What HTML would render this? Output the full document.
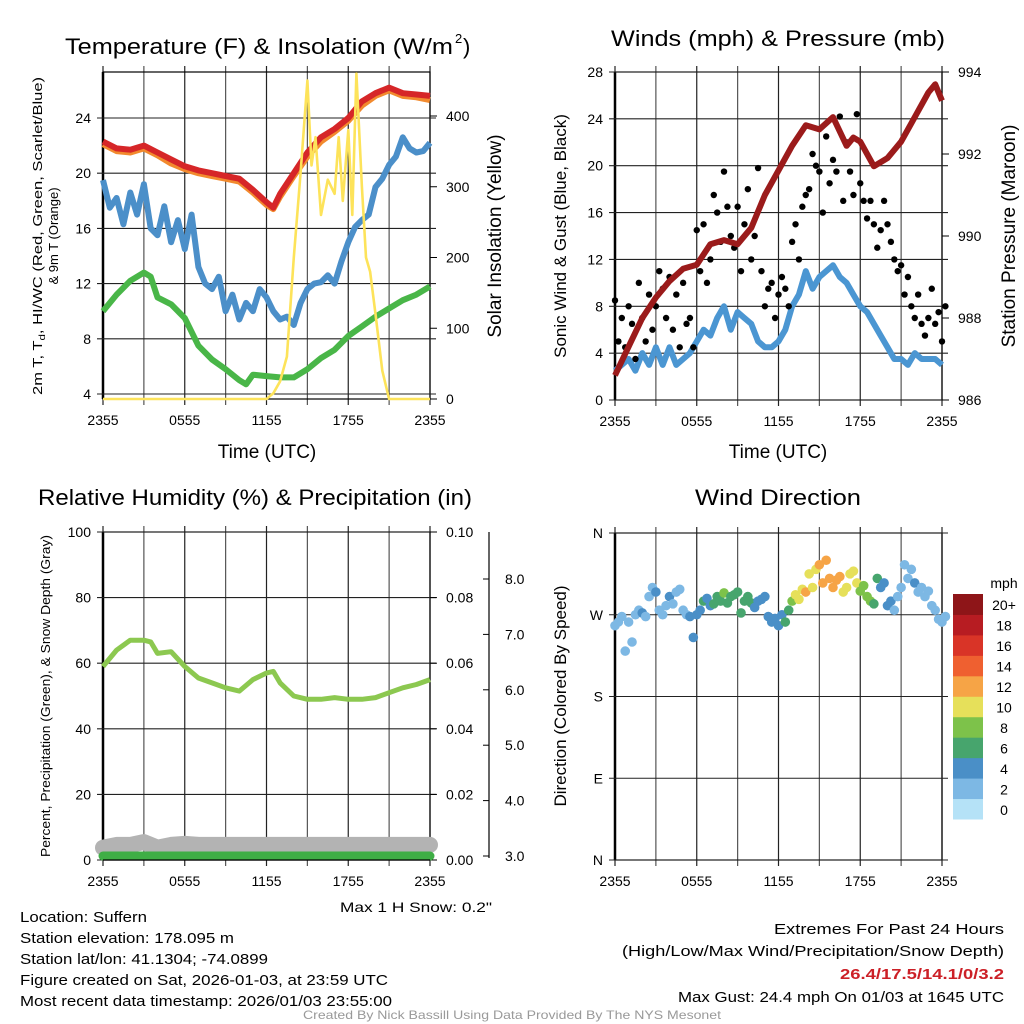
<!DOCTYPE html>
<html><head><meta charset="utf-8">
<style>
html,body{margin:0;padding:0;background:#fff;}
svg{display:block;font-family:"Liberation Sans",Arial,sans-serif;}
</style></head>
<body>
<svg id="c" width="1024" height="1024" viewBox="0 0 1024 1024" xmlns="http://www.w3.org/2000/svg"></svg>
<script>
// ---------- DATA ----------
const xTickLabels = ["2355","0555","1155","1755","2355"];
const tempHours = [0,1,2,3,4,5,6,7,8,9,10,11,12,12.5,13,14,15,16,17,18,19,20,21,22,23,24];
const tempRed   = [22.3,21.8,21.7,22.0,21.5,21.0,20.5,20.2,20.0,19.8,19.6,18.8,17.9,17.5,18.5,20.0,21.5,22.6,23.2,24.0,25.2,25.8,26.2,25.8,25.7,25.6];
const tempOrange= [22.1,21.6,21.5,21.8,21.3,20.7,20.3,20.0,19.8,19.6,19.4,18.6,17.7,17.4,18.3,19.8,21.2,22.3,23.0,23.8,24.9,25.6,26.0,25.6,25.5,25.3];
const dewHours  = [0,1,2,3,3.5,4,5,6,7,8,9,10,10.5,11,12,13,14,15,16,17,18,19,20,21,22,23,24];
const dewGreen  = [10.0,11.2,12.2,12.8,12.5,11.0,10.5,9.5,7.5,6.5,5.8,5.0,4.7,5.4,5.3,5.2,5.2,5.8,6.6,7.2,8.2,8.9,9.6,10.2,10.8,11.2,11.8];
const wcHours = [0,0.5,1,1.5,2,2.5,3,3.5,4,4.5,5,5.5,6,6.5,7,7.5,8,8.5,9,9.5,10,10.5,11,11.5,12,12.5,13,13.5,14,14.5,15,15.5,16,16.5,17,17.5,18,18.5,19,19.5,20,20.5,21,21.5,22,22.5,23,23.5,24];
const wcBlue  = [19.5,17.5,18.2,16.3,18.6,17.0,19.2,16.0,15.5,17.6,15.0,16.6,14.5,17.0,13.2,12.0,11.6,12.5,10.0,11.2,9.4,10.6,10.0,11.6,11.0,10.0,9.4,9.6,9.0,10.6,11.6,12.0,12.1,12.6,12.0,13.6,15.0,16.1,16.6,17.0,19.0,19.6,20.6,21.2,22.6,21.8,21.5,21.6,22.2];
const solarHours = [0,12,12.5,13,13.5,14,14.5,15,15.3,15.6,16,16.5,17,17.3,17.6,18,18.3,18.6,19,19.3,19.6,20,20.5,21,24];
const solarW     = [0,0,8,25,60,200,320,450,330,370,260,310,290,370,280,380,260,460,300,200,180,120,40,0,0];
const windHours = wcHours;
const windSpeed = [2.5,3.0,3.5,2.5,4.0,3.0,4.5,3.0,4.5,3.0,3.5,4.0,5.0,6.0,5.5,7.0,8.0,6.0,7.5,7.0,6.5,5.0,4.5,4.5,5.0,6.0,8.0,9.0,11.0,9.5,10.5,11.0,11.5,10.5,10.0,9.0,8.0,7.5,6.5,5.5,4.5,3.5,3.5,3.0,4.0,3.5,3.5,3.5,3.0];
const gustMph = [8.5,5,7,4.5,8,6.5,3.5,10,7,5,9,6,8,11,9.5,7,10.5,6,9,4.5,10,6.5,7,4.5,
  14.5,11,15,10,12,17.5,16,13.5,19.5,16.5,14,13,16.5,11,15,18,12,14,19.8,11,8,9.5,10,7,
  9,10.5,9.5,8,13.5,15,12,16.5,17.5,18,21,20,19.5,16,22.5,18.5,20.5,19.5,24.2,17,22,19.5,17.5,24.4,18.5,17,15.5,17,15,13,14.5,17,15,13.5,12,11,11.5,9,10.5,8,7,9,6.5,5.5,7,9.5,6.5,7.5,5,8];
const pressHours = [0,1,2,3,4,5,6,7,8,9,10,11,12,13,14,15,16,17,17.5,18,19,20,21,22,23,23.5,24];
const pressMb    = [986.6,987.3,988.0,988.5,988.9,989.2,989.3,989.8,989.9,989.8,990.2,991.0,991.6,992.2,992.7,992.6,992.9,992.2,992.4,992.3,991.7,991.9,992.3,992.9,993.5,993.7,993.3];
const rhHours = [0,1,2,3,3.5,4,5,6,7,8,9,10,11,12,12.5,13,14,15,16,17,18,19,20,21,22,23,24];
const rhPct   = [59,64,67,67,66.5,63,63.5,59,55.5,54,52.5,51.5,55,57,57.5,54,50,49,49,49.5,49,49,49.5,51,52.5,53.5,55];
const snowHours = [0,1,2,3,4,5,6,7,8,9,10,11,12,13,14,15,16,17,18,19,20,21,22,23,24];
const snowDepth = [3.15,3.2,3.2,3.25,3.15,3.2,3.22,3.2,3.2,3.2,3.2,3.2,3.2,3.2,3.2,3.2,3.2,3.2,3.2,3.2,3.2,3.2,3.2,3.2,3.2];
const precipIn  = [0,0,0,0,0,0,0,0,0,0,0,0,0,0,0,0,0,0,0,0,0,0,0,0,0];
const dirDeg = [258,262,268,230,262,240,270,275,272,268,290,300,295,275,270,280,290,282,295,298,275,270,268,245,
  270,275,285,288,280,282,290,285,294,283,290,292,295,272,285,290,283,278,285,287,290,268,262,266,
  258,270,262,275,285,292,287,298,295,315,300,320,325,305,330,310,300,308,312,295,300,315,318,305,296,302,290,285,282,310,300,305,280,
  285,275,290,300,325,310,320,305,295,300,290,296,280,275,265,262,268];
const speedBins = ["0","2","4","6","8","10","12","14","16","18","20+"];
const binColors = ["#b5e2f7","#7db8e4","#4a8fc7","#47a56d","#7dc24a","#e6e05a","#f6a446","#ef6030","#d93427","#b71c22","#8e1518"];

// ---------- HELPERS ----------
const svg = document.getElementById('c');
const NS = "http://www.w3.org/2000/svg";
function mk(tag, attrs, parent){ const e=document.createElementNS(NS,tag); for(const k in attrs) e.setAttribute(k,attrs[k]); (parent||svg).appendChild(e); return e; }
function txt(s, x, y, size, anchor, parent, extra){ const t=mk('text',Object.assign({x:x,y:y,'font-size':size,'text-anchor':anchor||'start',fill:'#000'},extra||{}),parent); t.textContent=s; return t; }
function path(xs, ys, sx, sy){ let d=''; for(let i=0;i<xs.length;i++){ d+=(i?'L':'M')+sx(xs[i]).toFixed(1)+','+sy(ys[i]).toFixed(1);} return d; }
function interp(xs, ys, x){ for(let i=1;i<xs.length;i++){ if(x<=xs[i]){ const f=(x-xs[i-1])/(xs[i]-xs[i-1]); return ys[i-1]+f*(ys[i]-ys[i-1]); } } return ys[ys.length-1]; }

function frame(g, L, R, T, B, name){
  for(let h=0;h<=24;h+=3){ const x=L+(R-L)*h/24;
    const l=mk('line',{x1:x,y1:T-6,x2:x,y2:B+6,stroke:(h%6==0)?'#222':'#555','stroke-width':1.2},g);
      }
  const r=mk('rect',{x:L,y:T,width:R-L,height:B-T,fill:'none',stroke:'#000','stroke-width':1.2},g);
   
  mk('line',{x1:L,y1:T,x2:L,y2:B,stroke:'#000','stroke-width':2.5},g);
  for(let i=0;i<xTickLabels.length;i++){ const x=L+(R-L)*i/4;
    const t=txt(xTickLabels[i],x,B+26,14,'middle',g);   }
}
function hgrid(g, L, R, y, label, side, size){
  mk('line',{x1:L-6,y1:y,x2:R+6,y2:y,stroke:'#222','stroke-width':1.1},g);
  if(label!==null){ const t=txt(label, side=='l'?L-12:R+12, y+5, size||14, side=='l'?'end':'start', g);
      }
}

// ---------- PANEL 1 ----------
(function(){
  const g=mk('g',{});  
  const L=103,R=430,T=72,B=399;
  const sx=h=>L+(R-L)*h/24, sy=v=>394-(v-4)*13.8, sr=v=>399-v*0.7075;
  frame(g,L,R,T,B,'temperature');
  [4,8,12,16,20,24].forEach(v=>hgrid(g,L,R,sy(v),String(v),'l'));
  [0,100,200,300,400].forEach(v=>{ const y=sr(v); mk('line',{x1:R,y1:y,x2:R+7,y2:y,stroke:'#000'},g); const t=txt(String(v),R+16,y+5,14,'start',g);   });
  const s1=mk('path',{d:path(tempHours,tempOrange,sx,sy),fill:'none',stroke:'#f28a2e','stroke-width':6,'stroke-linejoin':'round'},g);
   
  const s2=mk('path',{d:path(tempHours,tempRed,sx,sy),fill:'none',stroke:'#d62628','stroke-width':6,'stroke-linejoin':'round'},g);
   
  const s3=mk('path',{d:path(wcHours,wcBlue,sx,sy),fill:'none',stroke:'#4b8fc9','stroke-width':6,'stroke-linejoin':'round'},g);
   
  const s4=mk('path',{d:path(dewHours,dewGreen,sx,sy),fill:'none',stroke:'#49b648','stroke-width':6,'stroke-linejoin':'round'},g);
   
  const s5=mk('path',{d:path(solarHours,solarW,sx,sr),fill:'none',stroke:'#fde35a','stroke-width':2.6,'stroke-linejoin':'round'},g);
   
  const t=txt('Temperature (F) & Insolation (W/m',65,54,22,'start',g,{textLength:388,lengthAdjust:'spacingAndGlyphs'});  
  txt('2',455,43,13,'start',g); txt(')',463,54,22,'start',g);
  const xt=txt('Time (UTC)',267,458,19,'middle',g);  
  const y1=mk('text',{transform:'translate(42,236) rotate(-90)','font-size':13,'text-anchor':'middle',textLength:318,lengthAdjust:'spacingAndGlyphs'},g);
  y1.innerHTML='2m T, T<tspan font-size="9" dy="3">d</tspan><tspan dy="-3">, HI/WC (Red, Green, Scarlet/Blue)</tspan>';
   
  const y2=txt('& 9m T (Orange)',0,0,13,'middle',g,{transform:'translate(58,236) rotate(-90)'});  
  const y3=txt('Solar Insolation (Yellow)',0,0,19,'middle',g,{transform:'translate(501,236) rotate(-90)'});  
})();

// ---------- PANEL 2 ----------
(function(){
  const g=mk('g',{});  
  const L=615,R=942,T=72,B=400;
  const sx=h=>L+(R-L)*h/24, sy=v=>B-v*(B-T)/28, sp=v=>B-(v-986)*(B-T)/8;
  frame(g,L,R,T,B,'winds');
  [0,4,8,12,16,20,24,28].forEach(v=>hgrid(g,L,R,sy(v),String(v),'l'));
  [986,988,990,992,994].forEach(v=>{ const y=sp(v); mk('line',{x1:R,y1:y,x2:R+7,y2:y,stroke:'#000'},g); const t=txt(String(v),R+16,y+5,14,'start',g);   });
  const w=mk('path',{d:path(windHours,windSpeed,sx,sy),fill:'none',stroke:'#4b96d2','stroke-width':6,'stroke-linejoin':'round'},g);
   
  for(let i=0;i<gustMph.length;i++){ const c=mk('circle',{cx:sx(i*0.25),cy:sy(gustMph[i]),r:3.2,fill:'#000'},g);
      }
  const p=mk('path',{d:path(pressHours,pressMb,sx,sp),fill:'none',stroke:'#9b1b1b','stroke-width':6,'stroke-linejoin':'round'},g);
   
  const t=txt('Winds (mph) & Pressure (mb)',778,46,22,'middle',g,{textLength:334,lengthAdjust:'spacingAndGlyphs'});  
  const xt=txt('Time (UTC)',778,458,19,'middle',g);  
  const y1=txt('Sonic Wind & Gust (Blue, Black)',0,0,17,'middle',g,{transform:'translate(566,236) rotate(-90)'});  
  const y2=txt('Station Pressure (Maroon)',0,0,19,'middle',g,{transform:'translate(1015,236) rotate(-90)'});  
})();

// ---------- PANEL 3 ----------
(function(){
  const g=mk('g',{});  
  const L=103,R=430,T=532,B=860;
  const sx=h=>L+(R-L)*h/24, sy=v=>B-v*(B-T)/100, spr=v=>B-v*(B-T)/0.1, ss=v=>856-(v-3)*55.4;
  frame(g,L,R,T,B,'humidity');
  [0,20,40,60,80,100].forEach(v=>hgrid(g,L,R,sy(v),String(v),'l'));
  [0,0.02,0.04,0.06,0.08,0.1].forEach(v=>{ const y=spr(v); mk('line',{x1:R,y1:y,x2:R+7,y2:y,stroke:'#000'},g); const t=txt(v.toFixed(2),R+16,y+5,14,'start',g);   });
  const ax=mk('line',{x1:489,y1:T,x2:489,y2:B-2,stroke:'#000','stroke-width':1.2},g);  
  [3,4,5,6,7,8].forEach(v=>{ const y=ss(v); mk('line',{x1:483,y1:y,x2:489,y2:y,stroke:'#000'},g); const t=txt(v.toFixed(1),505,y+5,14,'start',g);   });
  const sn=mk('path',{d:path(snowHours,snowDepth,sx,ss),fill:'none',stroke:'#b3b3b3','stroke-width':16,'stroke-linecap':'round','stroke-linejoin':'round'},g);
   
  const pr=mk('path',{d:path(snowHours,precipIn,sx,v=>spr(v)-4),fill:'none',stroke:'#3fae45','stroke-width':9,'stroke-linecap':'round'},g);
   
  mk('line',{x1:L,y1:B,x2:R,y2:B,stroke:'#000','stroke-width':1.2},g);
  const rh=mk('path',{d:path(rhHours,rhPct,sx,sy),fill:'none',stroke:'#8cc850','stroke-width':5,'stroke-linejoin':'round'},g);
   
  const t=txt('Relative Humidity (%) & Precipitation (in)',255,505,22,'middle',g,{textLength:434,lengthAdjust:'spacingAndGlyphs'});  
  const y1=txt('Percent, Precipitation (Green), & Snow Depth (Gray)',0,0,13,'middle',g,{transform:'translate(50,696) rotate(-90)',textLength:322,lengthAdjust:'spacingAndGlyphs'});  
  const ms=txt('Max 1 H Snow: 0.2"',492,912,14,'end',g,{textLength:152,lengthAdjust:'spacingAndGlyphs'});  
})();

// ---------- PANEL 4 ----------
(function(){
  const g=mk('g',{});  
  const L=615,R=942,T=533,B=860;
  const sx=h=>L+(R-L)*h/24, sy=d=>B-d*(B-T)/360;
  frame(g,L,R,T,B,'wind-direction');
  [[0,'N'],[90,'E'],[180,'S'],[270,'W'],[360,'N']].forEach(a=>hgrid(g,L,R,sy(a[0]),a[1],'l'));
  for(let i=0;i<dirDeg.length;i++){ const h=i*0.25; const spd=interp(windHours,windSpeed,h)+ (h>13&&h<19?1.5:0);
    const bi=Math.min(10,Math.max(0,Math.floor(spd/2)));
    const c=mk('circle',{cx:sx(h),cy:sy(dirDeg[i]),r:4.8,fill:binColors[bi]},g);
      }
  const lg=mk('g',{},g);  
  const cbT=594, cbH=225/11;
  for(let i=0;i<11;i++){ const y=cbT+(10-i)*cbH;
    const r=mk('rect',{x:953,y:y,width:30,height:cbH+0.5,fill:binColors[i]},lg);  
    const t=txt(speedBins[i],1004,y+cbH/2+6,14,'middle',lg);   }
  const u=txt('mph',1004,588,14,'middle',lg);  
  const t=txt('Wind Direction',778,505,22,'middle',g,{textLength:166,lengthAdjust:'spacingAndGlyphs'});  
  const y1=txt('Direction (Colored By Speed)',0,0,17,'middle',g,{transform:'translate(566,696) rotate(-90)'});  
})();

// ---------- FOOTER ----------
(function(){
  const g=mk('g',{});  
  const lines=[['Location: Suffern',127],['Station elevation: 178.095 m',214],['Station lat/lon: 41.1304; -74.0899',248],['Figure created on Sat, 2026-01-03, at 23:59 UTC',368],['Most recent data timestamp: 2026/01/03 23:55:00',372]];
  lines.forEach((l,i)=>{ const t=txt(l[0],20,922+i*21,15,'start',g,{textLength:l[1],lengthAdjust:'spacingAndGlyphs'});   });
  const r=[['Extremes For Past 24 Hours',230,'#000',''],['(High/Low/Max Wind/Precipitation/Snow Depth)',382,'#000',''],['26.4/17.5/14.1/0/3.2',164,'#cc2027','bold'],['Max Gust: 24.4 mph On 01/03 at 1645 UTC',326,'#000','']];
  const ry=[934,956,979,1002];
  r.forEach((l,i)=>{ const t=txt(l[0],1004,ry[i],15,'end',g,{textLength:l[1],lengthAdjust:'spacingAndGlyphs',fill:l[2],'font-weight':l[3]||'normal'});   });
  const c=txt('Created By Nick Bassill Using Data Provided By The NYS Mesonet',512,1019,12,'middle',g,{fill:'#999',textLength:418,lengthAdjust:'spacingAndGlyphs'});  
})();
</script>
</body></html>
